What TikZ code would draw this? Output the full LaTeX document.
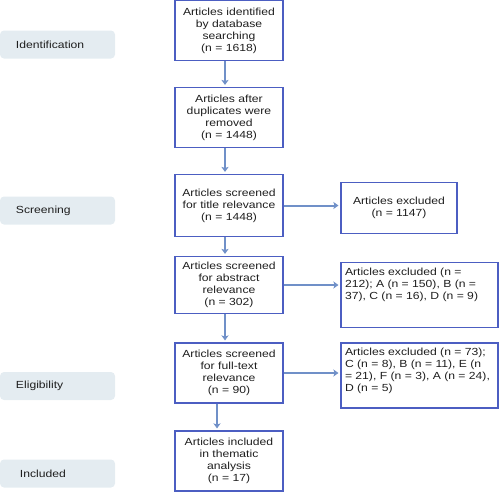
\documentclass[tikz,border=0pt]{standalone}
\usepackage{fontspec}
\setmainfont[FakeStretch=1.18]{Liberation Sans}
\usetikzlibrary{shapes.geometric, arrows.meta, positioning}
\definecolor{boxblue}{HTML}{4C5EC2}
\definecolor{arrowblue}{HTML}{7090C8}
\definecolor{stagefill}{HTML}{E4ECF1}
\definecolor{textgray}{HTML}{1E1E1E}
\tikzstyle{stage} = [rectangle, rounded corners=4pt, fill=stagefill, minimum height=28pt, text width=83pt, inner xsep=16pt, align=left, text=textgray]
\tikzstyle{process} = [rectangle, draw=boxblue, line width=1.1pt, minimum width=108pt, minimum height=60pt, text width=102pt, inner sep=3pt, align=center, text=textgray]
\tikzstyle{excluded} = [rectangle, draw=boxblue, line width=1.1pt, inner sep=0pt, text=textgray]
\tikzstyle{arrow} = [line width=2pt, draw=arrowblue, ->, >={Stealth[length=5pt,width=7pt,inset=1pt]}, shorten >=2pt]

\begin{document}
\begin{tikzpicture}[node distance=88pt, font=\fontsize{10.3}{12}\selectfont]
    \useasboundingbox (0,0) rectangle (500pt,-493pt);

    \node (dbsearch) [process] at (229pt,-30.5pt) {Articles identified\\by database\\searching\\(n = 1618)};
    \node (dedup) [process, below of=dbsearch, yshift=1pt] {Articles after\\duplicates were\\removed\\(n = 1448)};
    \node (screentitle) [process, below of=dedup, minimum height=62pt] {Articles screened\\for title relevance\\(n = 1448)};
    \node (screenabs) [process, below of=screentitle, yshift=8.5pt, minimum height=57pt] {Articles screened\\for abstract\\relevance\\(n = 302)};
    \node (screenfull) [process, below of=screenabs] {Articles screened\\for full-text\\relevance\\(n = 90)};
    \node (included) [process, below of=screenfull] {Articles included\\in thematic\\analysis\\(n = 17)};

    \node (exctitle) [excluded, right of=screentitle, xshift=82pt, yshift=-2.5pt, minimum width=116pt, minimum height=51pt, align=center] {Articles excluded\\(n = 1147)};
    \node (excabs) [excluded, right of=screenabs, xshift=102.5pt, yshift=-10pt] {\parbox[c][65pt][t]{157pt}{\vspace{6pt}\leftskip=4pt Articles excluded (n =\\212); A (n = 150), B (n =\\37), C (n = 16), D (n = 9)}};
    \node (excfull) [excluded, right of=screenfull, xshift=102.5pt, yshift=-2.5pt] {\parbox[c][65pt][t]{157pt}{\vspace{5pt}\leftskip=4pt Articles excluded (n = 73);\\C (n = 8), B (n = 11), E (n\\= 21), F (n = 3), A (n = 24),\\D (n = 5)}};

    \node (identification) [stage, left of=dbsearch, xshift=-83.5pt, yshift=-14pt] {Identification};
    \node (screening) [stage, left of=screentitle, xshift=-83.5pt, yshift=-5pt] {Screening};
    \node (eligibility) [stage, left of=screenfull, xshift=-83.5pt, yshift=-13pt] {Eligibility};
    \node (includedstage) [stage, left of=included, xshift=-83.5pt, yshift=-12.5pt] {\hspace*{4pt}Included};

    \draw [arrow] ([xshift=-4pt]dbsearch.south) -- ([xshift=-4pt]dedup.north);
    \draw [arrow] ([xshift=-4pt]dedup.south) -- ([xshift=-4pt]screentitle.north);
    \draw [arrow] ([xshift=-4pt]screentitle.south) -- ([xshift=-4pt]screenabs.north);
    \draw [arrow] ([xshift=-4pt]screenabs.south) -- ([xshift=-4pt]screenfull.north);
    \draw [arrow] ([xshift=-12pt]screenfull.south) -- ([xshift=-12pt]included.north);
    \draw [arrow] (screentitle.east) -- (screentitle.east -| exctitle.west);
    \draw [arrow] (screenabs.east) -- (screenabs.east -| excabs.west);
    \draw [arrow] (screenfull.east) -- (screenfull.east -| excfull.west);

\end{tikzpicture}
\end{document}
